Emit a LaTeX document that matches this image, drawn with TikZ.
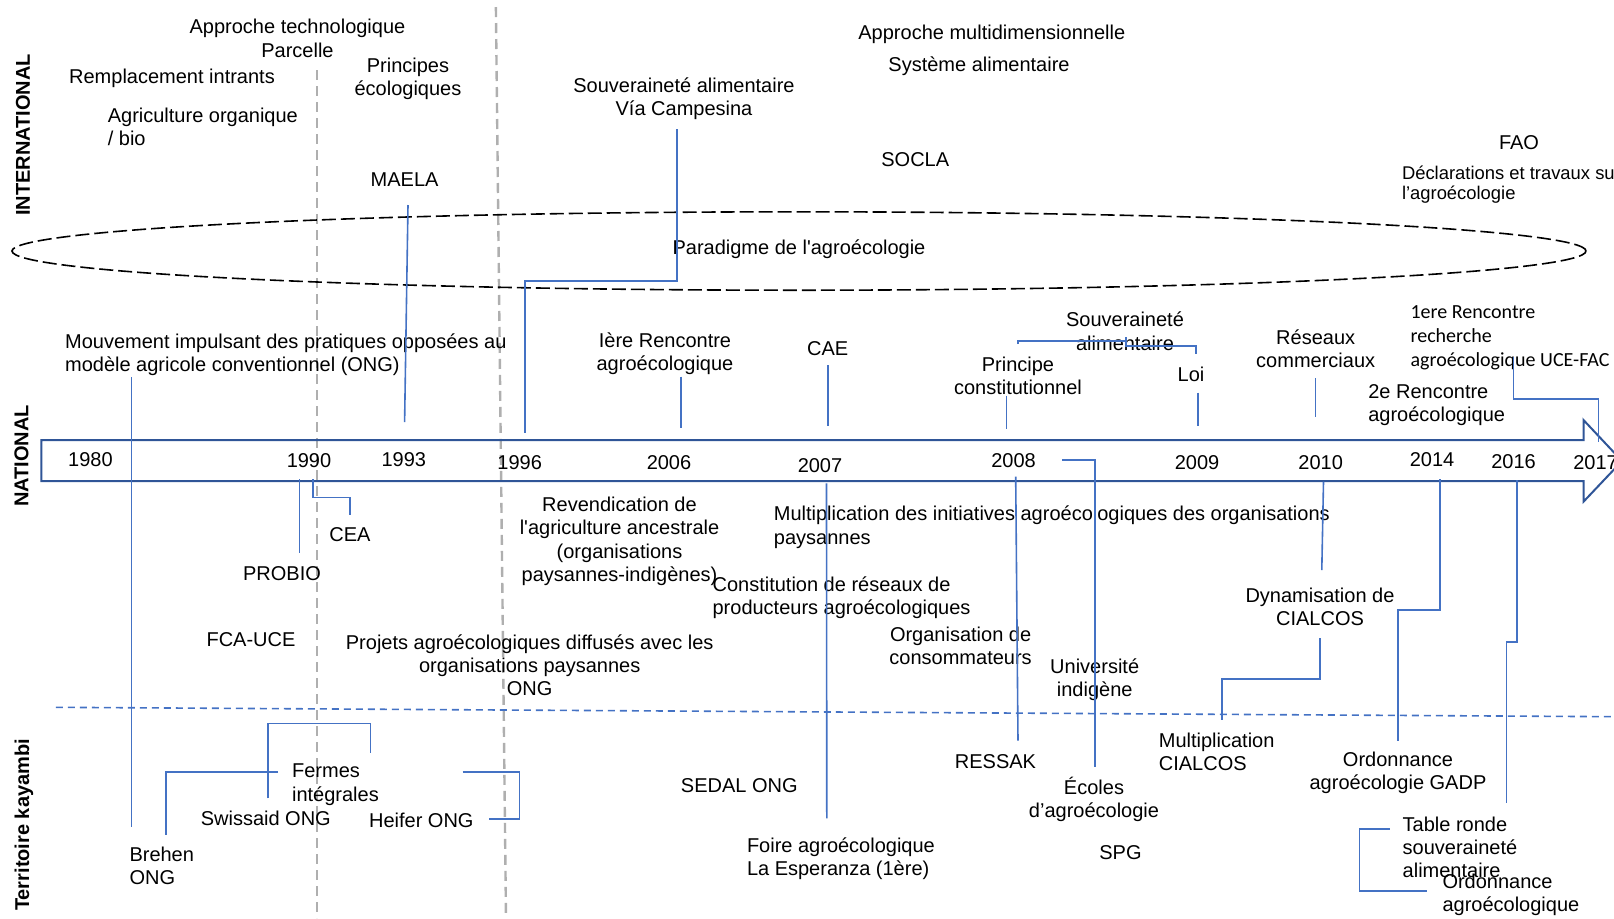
\documentclass[tikz,border=0pt]{standalone}
\usepackage{fontspec}
\setmainfont{Liberation Sans}
\newfontfamily\carlito{Carlito}
\usetikzlibrary{positioning}

\definecolor{linkblue}{RGB}{68,114,196}
\definecolor{axisblue}{RGB}{47,85,151}
\definecolor{guidegray}{RGB}{175,175,175}

\begin{document}
\begin{tikzpicture}[x=0.5pt, y=-0.5pt,
    lbl/.style={inner sep=0pt, align=center, font=\fontsize{10}{11.6}\selectfont},
    lblleft/.style={lbl, align=left, anchor=west},
    declbl/.style={lblleft, font=\fontsize{9.2}{10}\selectfont},
    calibl/.style={lblleft, font=\carlito\fontsize{10}{12}\selectfont},
    scopelabel/.style={inner sep=0pt, rotate=90, font=\bfseries\fontsize{10}{12}\selectfont},
    link/.style={draw=linkblue, line width=0.8pt},
    guide/.style={draw=guidegray, line width=1.2pt, dash pattern=on 5pt off 3pt},
    zoneline/.style={draw=linkblue, line width=0.8pt, dash pattern=on 3.5pt off 2.5pt},
    paradigm/.style={draw, line width=0.8pt, dash pattern=on 7pt off 2.5pt},
    timeline/.style={draw=axisblue, line width=1pt},
  ]
  \useasboundingbox (0,0) rectangle (1614,918);
  \clip (0,0) rectangle (1614,918);

  \coordinate (g1-top) at (316.8,70);
  \coordinate (g1-bot) at (316.8,918);
  \coordinate (g2-top) at (495.9,7);
  \coordinate (g2-bot) at (506,918);
  \draw[guide] (g1-top) -- (g1-bot);
  \draw[guide] (g2-top) -- (g2-bot);

  \draw[paradigm] (799,251) ellipse [x radius=393.5pt, y radius=19.6pt];
  \coordinate (zone-a) at (55.8,707.3);
  \coordinate (zone-b) at (1614,716.7);
  \draw[zoneline] (zone-a) -- (zone-b);

  \draw[timeline] (41.3,440) -- (1583.5,440) -- (1583.5,420) -- (1622,461)
    -- (1583.5,501.7) -- (1583.5,481) -- (41.3,481) -- cycle;

  \node[scopelabel] (intl) at (23,135) {INTERNATIONAL};
  \node[scopelabel] (natl) at (21.5,456) {NATIONAL};
  \node[scopelabel] (terr) at (24,825) {Territoire kayambi};

  \node[lbl] (techno) at (297.5,38.3) {Approche technologique\\Parcelle};
  \node[lbl] (intrants) at (172,78) {Remplacement intrants};
  \node[lbl] (principes) at (408,78.7) {Principes\\écologiques};
  \node[lblleft] (organique) at (107.4,126.7) {Agriculture organique\\/ bio};
  \node[lbl] (maela) at (404.6,180) {MAELA};
  \node[lbl] (campesina) at (684,99) {Souveraineté alimentaire\\Vía Campesina};
  \node[lbl] (multidim) at (991.8,34) {Approche multidimensionnelle};
  \node[lbl] (systeme) at (979,66) {Système alimentaire};
  \node[lbl] (socla) at (915.3,160) {SOCLA};
  \node[lbl] (fao) at (1519,142.7) {FAO};
  \node[declbl] (declar) at (1401.6,185) {Déclarations et travaux sur\\l’agroécologie};
  \node[lbl] (paradigme) at (799,249) {Paradigme de l\textquotesingle agroécologie};

  \node[lblleft] (mouvement) at (64.7,354.7) {Mouvement impulsant des pratiques opposées au\\modèle agricole conventionnel (ONG)};
  \node[lbl] (rencontre1) at (665,353.3) {Ière Rencontre\\agroécologique};
  \node[lbl] (cae) at (827.7,348.3) {CAE};
  \node[lbl] (souvnat) at (1125,331.3) {Souveraineté\\alimentaire};
  \node[lbl] (constit) at (1018,375.7) {Principe\\constitutionnel};
  \node[lbl] (loi) at (1191,374) {Loi};
  \node[lbl] (reseaux) at (1315.7,348.7) {Réseaux\\commerciaux};
  \node[lblleft] (rencontre2) at (1367.9,404.7) {2e Rencontre\\agroécologique};
  \node[calibl] (recherche) at (1410.2,337.5) {1ere Rencontre\\recherche\\agroécologique UCE-FAC};

  \node[lbl] (y1980) at (90.4,459.3) {1980};
  \node[lbl] (y1990) at (309,461) {1990};
  \node[lbl] (y1993) at (403.8,460) {1993};
  \node[lbl] (y1996) at (519.7,463) {1996};
  \node[lbl] (y2006) at (669,462.3) {2006};
  \node[lbl] (y2007) at (820,465.7) {2007};
  \node[lbl] (y2008) at (1013.5,461) {2008};
  \node[lbl] (y2009) at (1197,462.3) {2009};
  \node[lbl] (y2010) at (1320.7,462.3) {2010};
  \node[lbl] (y2014) at (1432,459.3) {2014};
  \node[lbl] (y2016) at (1513.6,461.7) {2016};
  \node[lbl] (y2017) at (1595.5,462.3) {2017};

  \node[lbl] (cea) at (350,535) {CEA};
  \node[lbl] (probio) at (282,573.3) {PROBIO};
  \node[lbl] (revendication) at (619.5,541.4) {Revendication de\\l\textquotesingle agriculture ancestrale\\(organisations\\paysannes-indigènes)};
  \node[lblleft] (initiatives) at (773.5,527.2) {Multiplication des initiatives agroécologiques des organisations\\paysannes};
  \node[lblleft] (producteurs) at (712.2,597.5) {Constitution de réseaux de\\producteurs agroécologiques};
  \node[lbl] (consomm) at (960.6,645.5) {Organisation de\\consommateurs};
  \node[lbl] (universite) at (1094.7,680) {Université\\indigène};
  \node[lbl] (dynam) at (1320,607.2) {Dynamisation de\\CIALCOS};
  \node[lbl] (fcauce) at (251,640) {FCA-UCE};
  \node[lbl] (projets) at (529.7,665) {Projets agroécologiques diffusés avec les\\organisations paysannes\\ONG};

  \node[lblleft] (fermes) at (291.7,784.7) {Fermes\\intégrales};
  \node[lbl] (swissaid) at (265.8,818.3) {Swissaid ONG};
  \node[lbl] (heifer) at (421.3,820) {Heifer ONG};
  \node[lblleft] (brehen) at (129.1,866.2) {Brehen\\ONG};
  \node[lbl] (sedal) at (739.3,785.7) {SEDAL ONG};
  \node[lblleft] (foire) at (746.6,858.3) {Foire agroécologique\\La Esperanza (1ère)};
  \node[lbl] (ressak) at (995.5,761.7) {RESSAK};
  \node[lbl] (ecoles) at (1094,799.5) {Écoles\\d’agroécologie};
  \node[lbl] (spg) at (1120.5,852.7) {SPG};
  \node[lblleft] (cialcos) at (1158.5,752) {Multiplication\\CIALCOS};
  \node[lbl] (gadp) at (1398,773) {Ordonnance\\agroécologie GADP};
  \node[lblleft] (tableronde) at (1402.3,847.3) {Table ronde\\souveraineté\\alimentaire};
  \node[lblleft] (ordonnance) at (1442.1,895) {Ordonnance\\agroécologique};

  \coordinate (mouvement-a) at (131.5,377);
  \coordinate (mouvement-b) at (131.5,827);
  \coordinate (maela-a) at (408,205);
  \coordinate (maela-b) at (404.6,422);
  \coordinate (campesina-a) at (676.7,129.3);
  \coordinate (campesina-b) at (525,433);
  \coordinate (probio-a) at (299.6,479.3);
  \coordinate (probio-b) at (299.6,553.3);
  \coordinate (cea-a) at (313,479.3);
  \coordinate (cea-b) at (350.2,515);
  \coordinate (rencontre1-a) at (681.2,376.7);
  \coordinate (rencontre1-b) at (681.2,428.3);
  \coordinate (cae-a) at (828.2,365);
  \coordinate (cae-b) at (828.2,426);
  \coordinate (constit-a) at (1006.6,395.7);
  \coordinate (constit-b) at (1006.6,429.3);
  \coordinate (souv-left) at (1017.7,344);
  \coordinate (souv-mid) at (1125.7,340.7);
  \coordinate (souv-tick) at (1125.7,337.3);
  \coordinate (souv-right) at (1196,354);
  \coordinate (loi-a) at (1197.7,392.7);
  \coordinate (loi-b) at (1197.7,426);
  \coordinate (reseaux-a) at (1315.6,378.3);
  \coordinate (reseaux-b) at (1315.6,416.7);
  \coordinate (recherche-a) at (1513.3,356.7);
  \coordinate (recherche-b) at (1598.3,441.7);
  \coordinate (y2007-a) at (826.5,483.3);
  \coordinate (y2007-b) at (826.8,818.3);
  \coordinate (y2008-a) at (1015.7,476.7);
  \coordinate (y2008-b) at (1018,740.7);
  \coordinate (y2008-c) at (1062.3,460);
  \coordinate (y2008-d) at (1094.8,766.7);
  \coordinate (y2010-a) at (1323.5,481.7);
  \coordinate (y2010-b) at (1321.8,570);
  \coordinate (y2014-a) at (1440,479.3);
  \coordinate (y2014-b) at (1398,740.7);
  \coordinate (y2016-a) at (1516.7,480);
  \coordinate (y2016-b) at (1506.4,803.3);
  \coordinate (dynam-a) at (1320.1,638.3);
  \coordinate (dynam-b) at (1222.1,720);
  \coordinate (table-a) at (1389.5,829);
  \coordinate (table-b) at (1427.4,890.7);
  \coordinate (fermes-a) at (267.9,798.3);
  \coordinate (fermes-b) at (370.5,753.3);
  \coordinate (brehen-a) at (278.2,771.7);
  \coordinate (brehen-b) at (166,835);
  \coordinate (heifer-a) at (462.5,771.7);
  \coordinate (heifer-b) at (489,819);

  \draw[link] (mouvement-a) -- (mouvement-b);
  \draw[link] (maela-a) -- (maela-b);
  \draw[link] (campesina-a) -- ++(0,151.7) -| (campesina-b);
  \draw[link] (probio-a) -- (probio-b);
  \draw[link] (cea-a) -- ++(0,18) -| (cea-b);
  \draw[link] (rencontre1-a) -- (rencontre1-b);
  \draw[link] (cae-a) -- (cae-b);
  \draw[link] (constit-a) -- (constit-b);
  \draw[link] (souv-left) |- (souv-mid);
  \draw[link] (souv-tick) -- ++(0,8.4) -| (souv-right);
  \draw[link] (loi-a) -- (loi-b);
  \draw[link] (reseaux-a) -- (reseaux-b);
  \draw[link] (recherche-a) -- ++(0,42) -| (recherche-b);
  \draw[link] (y2007-a) -- (y2007-b);
  \draw[link] (y2008-a) -- (y2008-b);
  \draw[link] (y2008-c) -| (y2008-d);
  \draw[link] (y2010-a) -- (y2010-b);
  \draw[link] (y2014-a) -- ++(0,130.7) -| (y2014-b);
  \draw[link] (y2016-a) -- ++(0,161.7) -| (y2016-b);
  \draw[link] (dynam-a) -- ++(0,40.7) -| (dynam-b);
  \draw[link] (table-a) -- ++(-30.2,0) |- (table-b);
  \draw[link] (fermes-a) -- ++(0,-75) -| (fermes-b);
  \draw[link] (brehen-a) -| (brehen-b);
  \draw[link] (heifer-a) -- ++(56.8,0) |- (heifer-b);
\end{tikzpicture}
\end{document}
